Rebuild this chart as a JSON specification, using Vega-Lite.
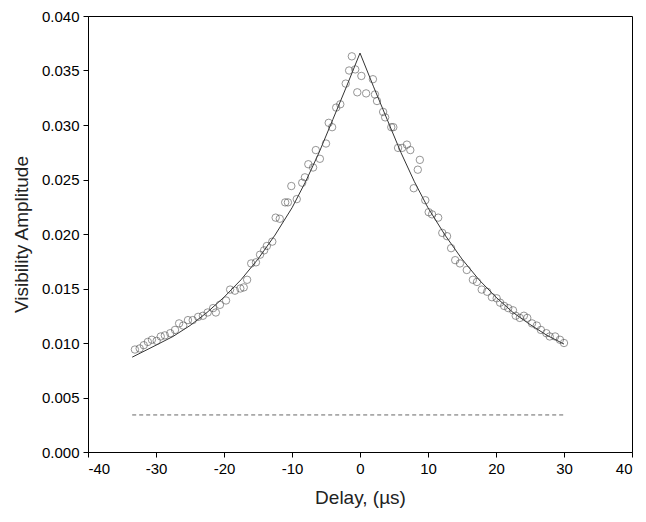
{
  "$schema": "https://vega.github.io/schema/vega-lite/v6.json",
  "width": 544,
  "height": 436,
  "autosize": "none",
  "padding": {"left": 88, "top": 16, "right": 14, "bottom": 70},
  "datasets": {
    "obs": [
      {"d": -33.1, "v": 0.0094}, {"d": -32.4, "v": 0.0095}, {"d": -31.8, "v": 0.0098}, {"d": -31.2, "v": 0.0101},
      {"d": -30.6, "v": 0.0103}, {"d": -29.9, "v": 0.0102}, {"d": -29.3, "v": 0.0106}, {"d": -28.7, "v": 0.0107},
      {"d": -27.9, "v": 0.0109}, {"d": -27.2, "v": 0.0112}, {"d": -26.6, "v": 0.0118}, {"d": -26.0, "v": 0.0116},
      {"d": -25.3, "v": 0.0121}, {"d": -24.6, "v": 0.0121}, {"d": -23.8, "v": 0.0124}, {"d": -23.1, "v": 0.0125},
      {"d": -22.4, "v": 0.0128}, {"d": -21.6, "v": 0.0132}, {"d": -21.2, "v": 0.0128}, {"d": -20.6, "v": 0.0135},
      {"d": -19.7, "v": 0.0139}, {"d": -19.1, "v": 0.0149}, {"d": -18.4, "v": 0.0148}, {"d": -17.6, "v": 0.0150},
      {"d": -17.1, "v": 0.0151}, {"d": -16.6, "v": 0.0158}, {"d": -16.0, "v": 0.0173}, {"d": -15.3, "v": 0.0174},
      {"d": -14.7, "v": 0.0181}, {"d": -14.1, "v": 0.0185}, {"d": -13.7, "v": 0.0189}, {"d": -12.9, "v": 0.0193},
      {"d": -12.4, "v": 0.0215}, {"d": -11.8, "v": 0.0214}, {"d": -11.0, "v": 0.0229}, {"d": -10.6, "v": 0.0229},
      {"d": -10.1, "v": 0.0244}, {"d": -9.3, "v": 0.0232}, {"d": -8.5, "v": 0.0247}, {"d": -8.1, "v": 0.0252},
      {"d": -7.6, "v": 0.0264}, {"d": -6.9, "v": 0.0261}, {"d": -6.5, "v": 0.0277}, {"d": -5.9, "v": 0.0269},
      {"d": -5.0, "v": 0.0283}, {"d": -4.6, "v": 0.0302}, {"d": -4.1, "v": 0.0298}, {"d": -3.5, "v": 0.0316},
      {"d": -2.9, "v": 0.0319}, {"d": -2.1, "v": 0.0338}, {"d": -1.6, "v": 0.0350}, {"d": -1.2, "v": 0.0363},
      {"d": -0.7, "v": 0.0351}, {"d": -0.4, "v": 0.0330}, {"d": 0.2, "v": 0.0345}, {"d": 0.9, "v": 0.0329},
      {"d": 1.9, "v": 0.0342}, {"d": 2.2, "v": 0.0328}, {"d": 2.5, "v": 0.0322}, {"d": 3.4, "v": 0.0312},
      {"d": 3.7, "v": 0.0307}, {"d": 4.6, "v": 0.0298}, {"d": 4.9, "v": 0.0298}, {"d": 5.6, "v": 0.0279},
      {"d": 6.2, "v": 0.0279}, {"d": 6.9, "v": 0.0282}, {"d": 7.4, "v": 0.0277}, {"d": 7.9, "v": 0.0242},
      {"d": 8.5, "v": 0.0259}, {"d": 8.8, "v": 0.0268}, {"d": 9.6, "v": 0.0231}, {"d": 10.1, "v": 0.0220},
      {"d": 10.6, "v": 0.0218}, {"d": 11.5, "v": 0.0215}, {"d": 12.1, "v": 0.0201}, {"d": 12.8, "v": 0.0198},
      {"d": 13.4, "v": 0.0187}, {"d": 14.0, "v": 0.0176}, {"d": 14.7, "v": 0.0173}, {"d": 15.7, "v": 0.0167},
      {"d": 16.6, "v": 0.0158}, {"d": 17.2, "v": 0.0156}, {"d": 17.9, "v": 0.0149}, {"d": 18.7, "v": 0.0147},
      {"d": 19.4, "v": 0.0142}, {"d": 20.1, "v": 0.0141}, {"d": 20.6, "v": 0.0137}, {"d": 21.2, "v": 0.0134},
      {"d": 21.8, "v": 0.0132}, {"d": 22.5, "v": 0.0130}, {"d": 22.9, "v": 0.0125}, {"d": 23.5, "v": 0.0123},
      {"d": 24.1, "v": 0.0125}, {"d": 24.6, "v": 0.0123}, {"d": 25.3, "v": 0.0118}, {"d": 26.0, "v": 0.0116},
      {"d": 26.6, "v": 0.0112}, {"d": 27.4, "v": 0.0109}, {"d": 27.9, "v": 0.0106}, {"d": 28.7, "v": 0.0106},
      {"d": 29.4, "v": 0.0103}, {"d": 30.0, "v": 0.0100}
    ],
    "fit": [
      {"d": -33.5, "v": 0.0087}, {"d": -30, "v": 0.0098}, {"d": -27.5, "v": 0.0106}, {"d": -25, "v": 0.0116},
      {"d": -22.5, "v": 0.0128}, {"d": -20, "v": 0.0142}, {"d": -17.5, "v": 0.0158}, {"d": -15, "v": 0.0177},
      {"d": -12.5, "v": 0.0199}, {"d": -10, "v": 0.0224}, {"d": -8, "v": 0.0248}, {"d": -6, "v": 0.0275},
      {"d": -4, "v": 0.0305}, {"d": -2, "v": 0.0335}, {"d": 0, "v": 0.0366}, {"d": 2, "v": 0.0335},
      {"d": 4, "v": 0.0305}, {"d": 6, "v": 0.0275}, {"d": 8, "v": 0.0248}, {"d": 10, "v": 0.0224},
      {"d": 12.5, "v": 0.0199}, {"d": 15, "v": 0.0177}, {"d": 17.5, "v": 0.0158}, {"d": 20, "v": 0.0142},
      {"d": 22.5, "v": 0.0128}, {"d": 25, "v": 0.0117}, {"d": 27.5, "v": 0.0107}, {"d": 30, "v": 0.0099}
    ],
    "base": [{"d": -33.5, "v": 0.0034}, {"d": 30, "v": 0.0034}]
  },
  "encoding": {
    "x": {"field": "d", "type": "quantitative", "title": "Delay, (µs)",
      "scale": {"domain": [-40, 40], "nice": false},
      "axis": {"values": [-40, -30, -20, -10, 0, 10, 20, 30, 40], "grid": false, "labelExpr": "replace(datum.label, '−', '-')"}},
    "y": {"field": "v", "type": "quantitative", "title": "Visibility Amplitude",
      "scale": {"domain": [0, 0.04], "nice": false},
      "axis": {"values": [0, 0.005, 0.01, 0.015, 0.02, 0.025, 0.03, 0.035, 0.04], "format": ".3f", "grid": false}}
  },
  "layer": [
    {"data": {"name": "base"}, "mark": {"type": "line", "color": "#666", "strokeDash": [4, 3], "strokeWidth": 1}},
    {"data": {"name": "fit"}, "mark": {"type": "line", "color": "#333", "strokeWidth": 1, "interpolate": "linear"}},
    {"data": {"name": "obs"}, "mark": {"type": "point", "shape": "circle", "size": 55, "color": "#444", "strokeWidth": 0.8, "filled": false}}
  ],
  "config": {
    "font": "Liberation Sans",
    "view": {"stroke": "black", "strokeWidth": 1},
    "axis": {"domainColor": "black", "tickColor": "black", "tickSize": 5, "labelFontSize": 15, "labelColor": "black",
      "titleFontSize": 19, "titleFontWeight": "normal", "titleColor": "#222", "labelPadding": 4},
    "axisX": {"titlePadding": 12},
    "axisY": {"titlePadding": 10}
  }
}
